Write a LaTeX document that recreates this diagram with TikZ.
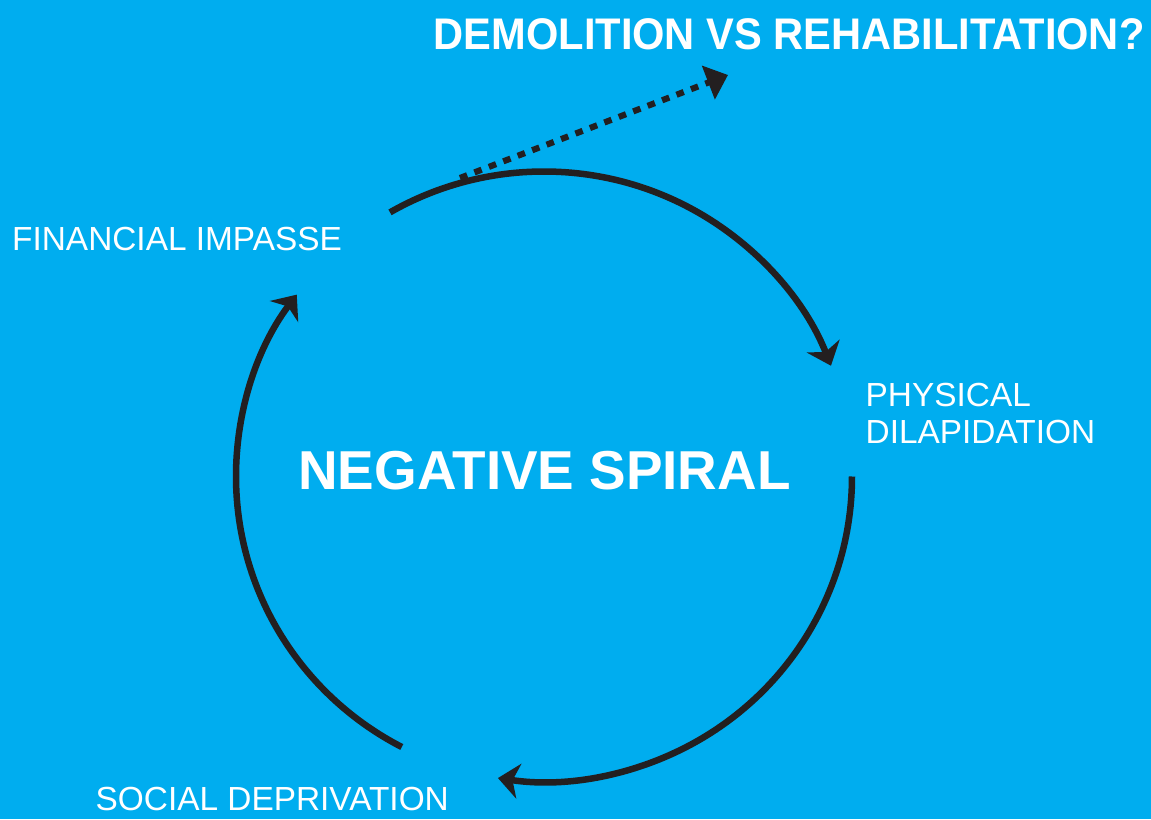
\documentclass[tikz,border=0pt]{standalone}
\usepackage{fontspec}
\setmainfont{Liberation Sans}
\usetikzlibrary{arrows.meta}
\definecolor{spiralblue}{HTML}{00ADEF}
\definecolor{spiralink}{HTML}{231F20}

\begin{document}
\begin{tikzpicture}[
  spiralarc/.style={line width=1.85pt, draw=spiralink, -{Stealth[length=6pt,width=10pt,inset=1.8pt]}},
  escape/.style={line width=1.75pt, draw=spiralink, dash pattern=on 2.2pt off 2.2pt, -{Triangle[length=6pt,width=10pt]}},
  stage/.style={text=white, font=\fontsize{9.5}{10.6}\selectfont, inner sep=0pt, align=left},
  ]

\fill[spiralblue] (0,0) rectangle (11.51,8.19);
\useasboundingbox (0,0) rectangle (11.51,8.19);

\coordinate (c) at (5.44,3.425);
\coordinate (from) at (4.60,6.41);
\coordinate (to) at (7.28,7.44);

\draw[spiralarc] (c) ++(120:3.08 and 3.05) arc[start angle=120, end angle=21.3, x radius=3.08, y radius=3.05];
\draw[spiralarc] (c) ++(0:3.08 and 3.05) arc[start angle=0, end angle=-98.6, x radius=3.08, y radius=3.05];
\draw[spiralarc] (c) ++(-117.5:3.08 and 3.05) arc[start angle=-117.5, end angle=-216.6, x radius=3.08, y radius=3.05];

\draw[escape] (from) -- (to);

\node[stage, anchor=base west] (financial) at (0.115,5.683) {FINANCIAL IMPASSE};
\node[stage, anchor=base west] (physical) at (8.65,3.75) {PHYSICAL\\DILAPIDATION};
\node[stage, anchor=base west] (social) at (0.95,0.09) {SOCIAL DEPRIVATION};

\node[text=white, font=\bfseries\fontsize{15.6}{18}\selectfont, inner sep=0pt, anchor=base west] (spiral) at (2.975,3.297) {NEGATIVE SPIRAL};
\node[text=white, font=\bfseries\fontsize{12.6}{15}\selectfont, inner sep=0pt, anchor=base west] (question) at (4.33,7.70) {\scalebox{0.94}[1]{DEMOLITION VS REHABILITATION?}};

\end{tikzpicture}
\end{document}
